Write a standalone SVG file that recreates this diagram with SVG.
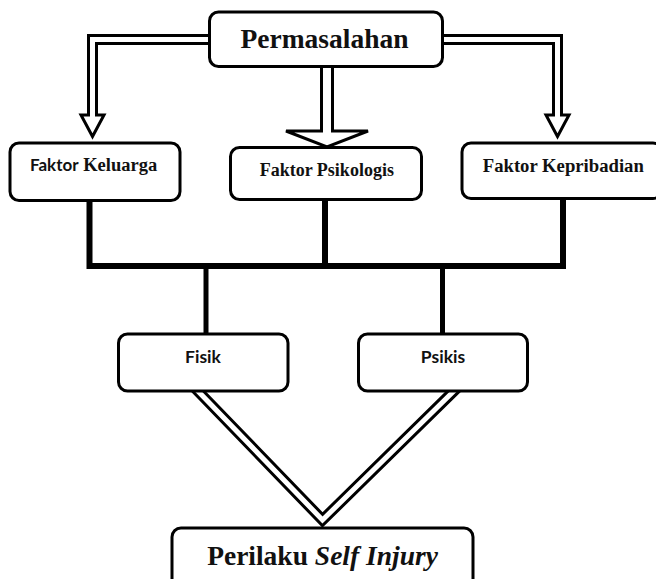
<svg xmlns="http://www.w3.org/2000/svg" width="656" height="579" viewBox="0 0 656 579">
<style>
.box{fill:#fff;stroke:#000;stroke-width:3}
.serif{font-family:"Liberation Serif","Times New Roman",serif;font-weight:bold;fill:#111}
.sans{font-family:Lato,"Liberation Sans",Arial,sans-serif;font-weight:bold;fill:#111}
.dbl-o{fill:none;stroke:#000;stroke-width:11;stroke-linejoin:miter;stroke-miterlimit:10}
.dbl-i{fill:none;stroke:#fff;stroke-width:5;stroke-linejoin:miter;stroke-miterlimit:10}
.head{fill:#fff;stroke:#000;stroke-width:3;stroke-linejoin:miter}
.thick{fill:none;stroke:#000;stroke-width:6;stroke-linecap:square}
.mid{fill:none;stroke:#000;stroke-width:5}
</style>
<rect width="656" height="579" fill="#fff"/>
<g id="connectors">
  <path class="dbl-o" d="M212,39.5 H92.5 V115"/>
  <polygon class="head" points="81,115 104,115 92.5,136.5"/>
  <path class="dbl-i" d="M212,39.5 H92.5 V117.5"/>
  <path class="dbl-o" d="M440,39.5 H557.5 V115"/>
  <polygon class="head" points="546,115 569,115 557.5,136.5"/>
  <path class="dbl-i" d="M440,39.5 H557.5 V117.5"/>
  <path d="M327,64 V131" fill="none" stroke="#000" stroke-width="14"/>
  <polygon class="head" points="286,131 368,131 327,147"/>
  <path d="M327,64 V133" fill="none" stroke="#fff" stroke-width="8"/>
  <path class="thick" d="M89.5,198 V266 H563 V198"/>
  <path class="thick" d="M325,198 V266"/>
  <path class="mid" d="M206,266 V336"/>
  <path class="mid" d="M442.5,266 V336"/>
  <path class="dbl-o" d="M193,386 L322.5,520 L459,386"/>
  <path class="dbl-i" d="M193,386 L322.5,520 L459,386"/>
</g>
<g id="permasalahan">
  <rect class="box" x="209.5" y="12" width="233" height="54.5" rx="9"/>
  <text class="serif" x="324.5" y="48" font-size="27.5" text-anchor="middle">Permasalahan</text>
</g>
<g id="faktor-keluarga">
  <rect class="box" x="10" y="143" width="170" height="57.5" rx="9"/>
  <text x="30" y="171.3"><tspan class="sans" font-size="17">Faktor</tspan><tspan class="serif" font-size="18.5"> Keluarga</tspan></text>
</g>
<g id="faktor-psikologis">
  <rect class="box" x="230.5" y="147.5" width="191" height="52" rx="9"/>
  <text class="serif" x="326.8" y="176.3" font-size="18" text-anchor="middle">Faktor Psikologis</text>
</g>
<g id="faktor-kepribadian">
  <rect class="box" x="462" y="143" width="200" height="55.5" rx="9"/>
  <text class="serif" x="563.3" y="171.7" font-size="18.7" text-anchor="middle">Faktor Kepribadian</text>
</g>
<g id="fisik">
  <rect class="box" x="118.5" y="334" width="169.5" height="57" rx="9"/>
  <text class="sans" x="203" y="363" font-size="17.5" text-anchor="middle">Fisik</text>
</g>
<g id="psikis">
  <rect class="box" x="358.5" y="334" width="169" height="57" rx="9"/>
  <text class="sans" x="443" y="363" font-size="17.5" text-anchor="middle">Psikis</text>
</g>
<g id="perilaku">
  <rect class="box" x="172" y="528" width="301" height="62" rx="9"/>
  <text class="serif" x="322.5" y="565" font-size="27.5" text-anchor="middle">Perilaku <tspan font-style="italic">Self Injury</tspan></text>
</g>
</svg>
